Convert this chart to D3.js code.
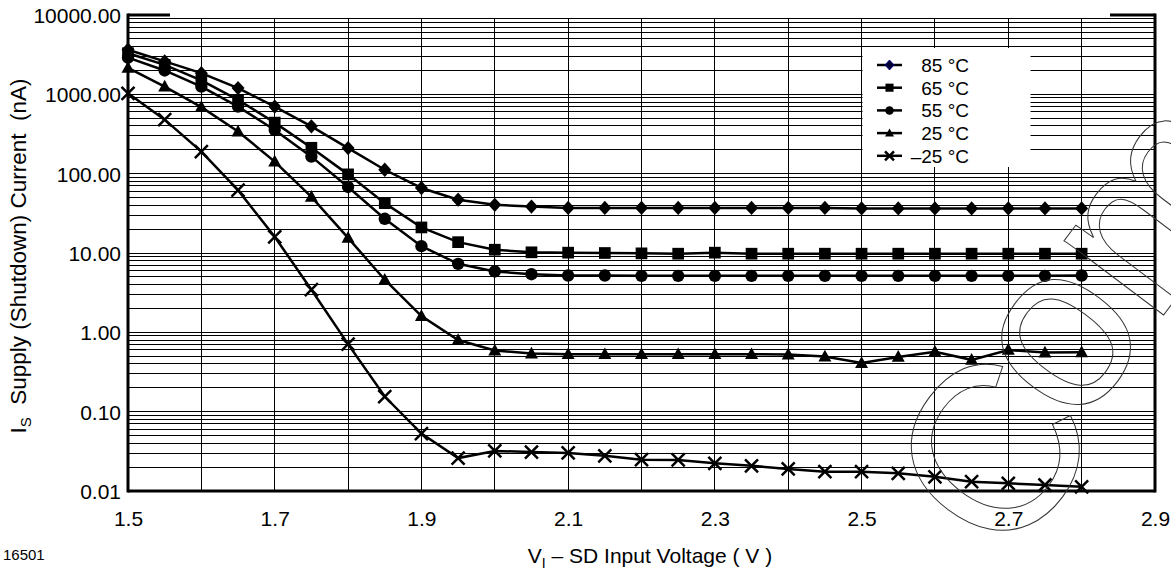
<!DOCTYPE html>
<html>
<head>
<meta charset="utf-8">
<script src="https://cdn.jsdelivr.net/npm/d3@7"></script>
<style>
body { margin: 0; background: #fff; }
svg { display: block; font-family: "Liberation Sans", Arial, sans-serif; }
</style>
</head>
<body>
<svg id="chart"></svg>
<script>
// Data (current in nA vs input voltage in V)
const voltage = [1.5, 1.55, 1.6, 1.65, 1.7, 1.75, 1.8, 1.85, 1.9, 1.95, 2.0, 2.05, 2.1, 2.15,
                 2.2, 2.25, 2.3, 2.35, 2.4, 2.45, 2.5, 2.55, 2.6, 2.65, 2.7, 2.75, 2.8];
const i85 = [3650, 2600, 1850, 1200, 700, 395, 210, 112, 66, 47, 40.5, 38.5, 37, 37,
             37, 37, 37, 37, 37, 37, 36.5, 36.5, 36.5, 36.5, 36.5, 36.5, 36.5];
const i65 = [3300, 2350, 1500, 850, 440, 212, 98, 42.5, 21, 13.7, 11, 10.2, 10.1, 10,
             9.9, 9.8, 10.1, 9.8, 9.8, 9.8, 9.8, 9.8, 9.8, 9.8, 9.8, 9.8, 9.8];
const i55 = [2900, 2000, 1250, 700, 355, 164, 68, 27, 12.2, 7.3, 5.85, 5.4, 5.2, 5.2,
             5.15, 5.15, 5.15, 5.15, 5.15, 5.15, 5.15, 5.15, 5.15, 5.15, 5.15, 5.15, 5.2];
const i25 = [2150, 1250, 690, 340, 142, 51, 15.5, 4.6, 1.6, 0.8, 0.59, 0.54, 0.53, 0.53,
             0.53, 0.53, 0.53, 0.53, 0.525, 0.495, 0.41, 0.49, 0.57, 0.45, 0.6, 0.555, 0.56];
const iMinus25 = [1030, 480, 190, 62, 16, 3.45, 0.71, 0.155, 0.053, 0.026, 0.032, 0.031, 0.0302, 0.0278,
                  0.0248, 0.0246, 0.0223, 0.0208, 0.019, 0.0175, 0.0175, 0.0167, 0.0151, 0.0131, 0.0125, 0.0119, 0.0113];

const seriesNames = ["85 °C", "65 °C", "55 °C", "25 °C", "\u201325 °C"];
const seriesMarkers = ["diamond", "square", "circle", "triangle", "x"];
const xTicks = [1.5, 1.7, 1.9, 2.1, 2.3, 2.5, 2.7, 2.9];
const yTicks = [0.01, 0.1, 1, 10, 100, 1000, 10000];
const yTickLabels = ["0.01", "0.10", "1.00", "10.00", "100.00", "1000.00", "10000.00"];

const W = 1171, H = 574;
const plotLeft = 128, plotRight = 1155, plotTop = 15, plotBottom = 491;

const svg = d3.select("#chart").attr("width", W).attr("height", H);

const x = d3.scaleLinear().domain([1.5, 2.9]).range([plotLeft, plotRight]);
const y = d3.scaleLog().domain([0.01, 10000]).range([plotBottom, plotTop]);

// gridlines
const minor = [];
[0.01, 0.1, 1, 10, 100, 1000].forEach(d => {
    for (let k = 1; k <= 9; k++) minor.push(d * k);
});
const grid = svg.append("g").attr("stroke", "#000").attr("stroke-width", 1).attr("shape-rendering", "crispEdges");
grid.selectAll("line.h")
    .data(minor)
    .enter().append("line")
    .attr("x1", plotLeft).attr("x2", plotRight)
    .attr("y1", d => y(d)).attr("y2", d => y(d));
grid.selectAll("line.v")
    .data(d3.range(1.6, 2.85, 0.1))
    .enter().append("line")
    .attr("x1", d => x(d)).attr("x2", d => x(d))
    .attr("y1", y(9000)).attr("y2", plotBottom);

// legend background (hides the grid behind it)
svg.append("rect")
    .attr("x", 862.5).attr("y", 48).attr("width", 168).attr("height", 119)
    .attr("fill", "#fff");

// axes frame
const frame = svg.append("g").attr("stroke", "#000").attr("stroke-width", 3);
frame.append("line").attr("x1", plotLeft).attr("x2", plotLeft).attr("y1", plotTop - 1.5).attr("y2", plotBottom + 1.5);
frame.append("line").attr("x1", plotRight).attr("x2", plotRight).attr("y1", plotTop - 1.5).attr("y2", plotBottom + 1.5);
frame.append("line").attr("x1", plotLeft).attr("x2", plotRight).attr("y1", plotBottom).attr("y2", plotBottom);
frame.append("line").attr("x1", plotLeft).attr("x2", plotLeft + 42).attr("y1", plotTop).attr("y2", plotTop);
frame.append("line").attr("x1", plotRight - 45).attr("x2", plotRight).attr("y1", plotTop).attr("y2", plotTop);

// tick labels via axes
const yAxis = d3.axisLeft(y).tickValues(yTicks)
    .tickFormat((d, i) => yTickLabels[i]).tickSize(0).tickPadding(7);
const gy = svg.append("g").attr("transform", `translate(${plotLeft},0)`).call(yAxis);
gy.select(".domain").remove();
gy.selectAll("text").attr("font-size", 21).attr("fill", "#000").attr("font-family", null).attr("dy", "0.36em");

const xAxis = d3.axisBottom(x).tickValues(xTicks).tickFormat(d3.format(".1f")).tickSize(0).tickPadding(20);
const gx = svg.append("g").attr("transform", `translate(0,${plotBottom})`).call(xAxis);
gx.select(".domain").remove();
gx.selectAll("text").attr("font-size", 21).attr("fill", "#000").attr("font-family", null);

// marker shapes
function markerPath(type, s) {
    const h = s / 2;
    if (type === "diamond") return `M0,${-h * 1.1}L${h},0L0,${h * 1.1}L${-h},0Z`;
    if (type === "square") return `M${-h * 0.9},${-h * 0.9}h${s * 0.9}v${s * 0.9}h${-s * 0.9}Z`;
    if (type === "circle") return d3.symbol(d3.symbolCircle, Math.PI * (h * 0.95) * (h * 0.95))();
    if (type === "triangle") return `M0,${-h * 1.05}L${h},${h * 0.75}L${-h},${h * 0.75}Z`;
    return `M${-h},${-h}L${h},${h}M${-h},${h}L${h},${-h}`;
}

const seriesValues = [i85, i65, i55, i25, iMinus25];
const line = d3.line().x(d => x(d[0])).y(d => y(d[1]));

seriesValues.forEach((vals, si) => {
    const pts = voltage.map((v, i) => [v, vals[i]]);
    svg.append("path")
        .datum(pts)
        .attr("fill", "none")
        .attr("stroke", "#000")
        .attr("stroke-width", 2.5)
        .attr("d", line);
    const type = seriesMarkers[si];
    svg.append("g").selectAll("path")
        .data(pts)
        .enter().append("path")
        .attr("transform", d => `translate(${x(d[0])},${y(d[1])})`)
        .attr("d", markerPath(type, 13))
        .attr("fill", type === "x" ? "none" : "#000")
        .attr("stroke", type === "x" ? "#000" : "none")
        .attr("stroke-width", 2.5);
});

// legend
const legend = svg.append("g");
seriesNames.forEach((name, i) => {
    const ly = 65 + i * 22.7;
    const type = seriesMarkers[i];
    legend.append("line")
        .attr("x1", 877).attr("x2", 902).attr("y1", ly).attr("y2", ly)
        .attr("stroke", "#000").attr("stroke-width", 2.5);
    legend.append("path")
        .attr("transform", `translate(889.5,${ly})`)
        .attr("d", markerPath(type, 9))
        .attr("fill", type === "x" ? "none" : (i === 0 ? "#000033" : "#000"))
        .attr("stroke", type === "x" ? "#000" : (i === 0 ? "#000080" : "none"))
        .attr("stroke-width", type === "x" ? 2.5 : 1);
    legend.append("text")
        .attr("x", 969).attr("y", ly).attr("dy", "0.36em")
        .attr("text-anchor", "end").attr("font-size", 19)
        .text(name);
});

// axis titles
const xt = svg.append("text")
    .attr("x", 650).attr("y", 563)
    .attr("text-anchor", "middle").attr("font-size", 21);
xt.append("tspan").text("V");
xt.append("tspan").attr("font-size", 14).attr("dy", 5).text("I");
xt.append("tspan").attr("dy", -5).text(" \u2013 SD Input Voltage ( V )");

const yt = svg.append("text")
    .attr("transform", "translate(26,256) rotate(-90)")
    .attr("text-anchor", "middle").attr("font-size", 22.5)
    .style("white-space", "pre");
yt.append("tspan").text("I");
yt.append("tspan").attr("font-size", 15).attr("dy", 5).text("S");
yt.append("tspan").attr("dy", -5).text("  Supply (Shutdown) Current  (nA)");

svg.append("text")
    .attr("x", 3).attr("y", 560).attr("font-size", 15)
    .text("16501");

// outlined watermark, one glyph at a time
const wm = svg.append("g")
    .attr("font-size", 235).attr("fill", "none")
    .attr("stroke", "#333").attr("stroke-width", 1)
    .attr("text-anchor", "middle");
[["C", 990, 450, 84], ["o", 1067, 343, 61], ["m", 1164, 213, 61]].forEach(([ch, cx, cy, dy]) => {
    wm.append("text")
        .attr("transform", `translate(${cx},${cy}) rotate(-53)`)
        .attr("y", dy)
        .text(ch);
});
</script>
</body>
</html>
